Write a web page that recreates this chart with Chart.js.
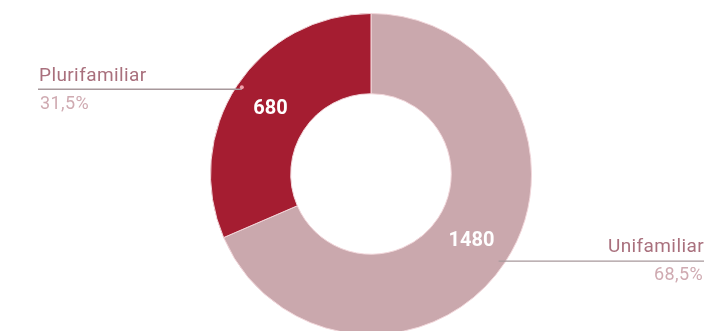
<!DOCTYPE html>
<html>
<head>
<meta charset="utf-8">
<script src="https://cdn.jsdelivr.net/npm/chart.js@4/dist/chart.umd.min.js"></script>
<style>
  html, body { margin: 0; padding: 0; background: #fff; overflow: hidden; }
  #wrap { width: 724px; height: 331px; overflow: hidden; }
</style>
</head>
<body>
<div id="wrap"><canvas id="housingChart" width="724" height="340"></canvas></div>
<script>
const categories = ["Unifamiliar", "Plurifamiliar"];
const values = [1480, 680];
const shareLabels = ["68,5%", "31,5%"];
const colors = ["#caa8ad", "#a51d31"];

// value labels in the middle of each ring segment, plus callouts with a line
const calloutPlugin = {
  id: "callouts",
  afterDatasetsDraw(chart) {
    const c = chart.ctx;
    const arcs = chart.getDatasetMeta(0).data;
    c.save();

    arcs.forEach((arc, i) => {
      const mid = (arc.startAngle + arc.endAngle) / 2;
      const r = (arc.innerRadius + arc.outerRadius) / 2;
      c.fillStyle = "#ffffff";
      c.font = "bold 20px Roboto, 'Open Sans', sans-serif";
      c.textAlign = "center";
      c.textBaseline = "middle";
      c.fillText(String(values[i]), arc.x + Math.cos(mid) * r, arc.y + Math.sin(mid) * r + 1);
    });

    const a = arcs[0];
    const rr = a.outerRadius - 6;
    const angL = Math.atan2(-84, -128);
    const angR = Math.atan2(88, 129);
    const lx = a.x + Math.cos(angL) * rr, ly = a.y + Math.sin(angL) * rr;
    const rx = a.x + Math.cos(angR) * rr, ry = a.y + Math.sin(angR) * rr;

    c.strokeStyle = "#a7989b";
    c.lineWidth = 1.3;
    // left callout (Plurifamiliar)
    c.beginPath();
    c.moveTo(38, ly);
    c.lineTo(lx, ly);
    c.stroke();
    c.fillStyle = "#f0a0aa";
    c.beginPath();
    c.arc(lx, ly - 2, 2, 0, Math.PI * 2);
    c.fill();
    // right callout (Unifamiliar)
    c.beginPath();
    c.moveTo(rx, ry);
    c.lineTo(704, ry);
    c.stroke();

    c.textBaseline = "middle";
    c.letterSpacing = "0.4px";
    c.font = "19px Roboto, 'Open Sans', sans-serif";
    c.textAlign = "left";
    c.fillStyle = "#a9707d";
    c.fillText(categories[1], 39, ly - 13);
    c.textAlign = "right";
    c.fillText(categories[0], 704, ry - 14);

    c.font = "18px Roboto, 'Open Sans', sans-serif";
    c.fillStyle = "#cfaab1";
    c.textAlign = "left";
    c.fillText(shareLabels[1], 40, ly + 15);
    c.textAlign = "right";
    c.fillText(shareLabels[0], 703, ry + 14);

    c.restore();
  }
};

new Chart(document.getElementById("housingChart").getContext("2d"), {
  type: "doughnut",
  data: {
    labels: categories,
    datasets: [{
      data: values,
      backgroundColor: colors,
      borderColor: "#f1d6da",
      borderWidth: 1
    }]
  },
  options: {
    responsive: false,
    animation: false,
    cutout: "50%",
    layout: { padding: { top: 13, bottom: 5, left: 20, right: 2 } },
    plugins: {
      legend: { display: false },
      tooltip: { enabled: false }
    }
  },
  plugins: [calloutPlugin]
});
</script>
</body>
</html>
